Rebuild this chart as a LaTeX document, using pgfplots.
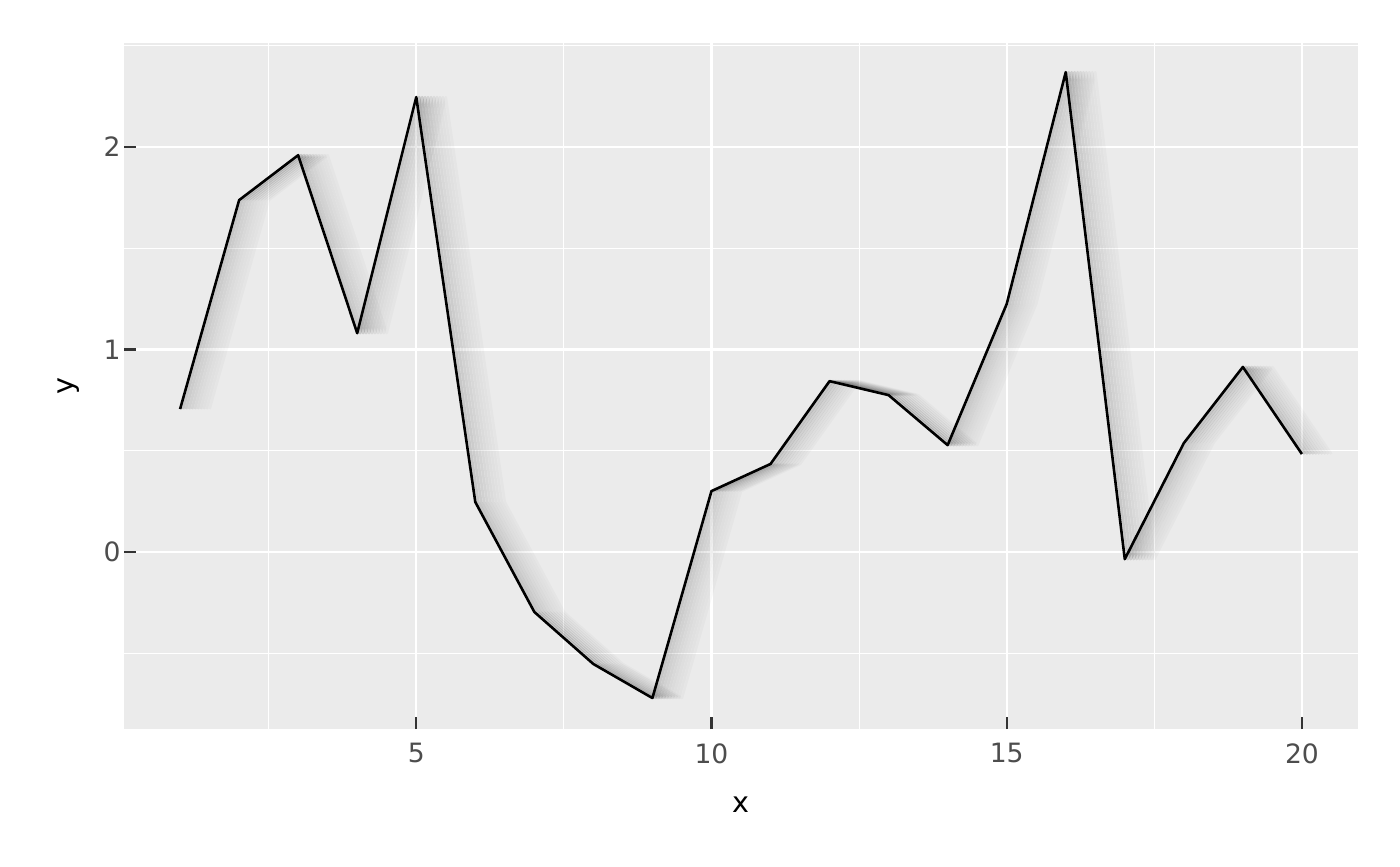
\documentclass[border=0pt]{standalone}
\usepackage{fontspec}
\setmainfont{DejaVu Sans}
\usepackage{pgfplots}
\pgfplotsset{compat=1.18}
\usepackage{pgfplotstable}
\usetikzlibrary{calc,backgrounds}

\definecolor{panelbg}{HTML}{EBEBEB}
\definecolor{tickgray}{HTML}{333333}
\definecolor{labelgray}{HTML}{4D4D4D}

\pgfplotstableread{
x y
1 0.706
2 1.738
3 1.960
4 1.081
5 2.247
6 0.247
7 -0.296
8 -0.553
9 -0.721
10 0.301
11 0.435
12 0.844
13 0.775
14 0.528
15 1.225
16 2.370
17 -0.035
18 0.538
19 0.914
20 0.484
}\linedata

% one faded copy of the line, shifted right by #1
\newcommand{\shadowcopy}[2]{%
  \addplot[black, line width=1.3pt, line join=round, draw opacity=#2, forget plot]
    table[x expr=\thisrow{x}+#1, y=y] {\linedata};}

\begin{document}
\begin{tikzpicture}
\begin{axis}[
  scale only axis,
  width=617pt, height=343pt,
  xmin=0.05, xmax=20.95,
  ymin=-0.874, ymax=2.514,
  xtick={5,10,15,20}, ytick={0,1,2},
  minor xtick={2.5,7.5,12.5,17.5},
  minor ytick={-0.5,0.5,1.5,2.5},
  grid=both,
  major grid style={white, line width=1.1pt},
  minor grid style={white, line width=0.55pt},
  axis background/.style={fill=panelbg},
  axis line style={draw=none},
  tick align=inside,
  major tick length=6pt, minor tick length=0pt,
  major tick style={tickgray, line width=1.1pt},
  xtick pos=bottom, ytick pos=left,
  /pgf/number format/assume math mode=true,
  tick label style={font=\fontsize{13.3}{16}\selectfont, text=labelgray, inner sep=0pt},
  xticklabel style={anchor=north, yshift=-7pt},
  yticklabel style={anchor=east, xshift=-1.5pt},
  label style={font=\fontsize{14.3}{17}\selectfont, inner sep=0pt},
  xlabel={x}, ylabel={y},
  xlabel style={at={(axis description cs:0.5,0)}, anchor=center, yshift=-37.75pt},
  ylabel style={at={(axis description cs:0,0.5)}, anchor=center, yshift=27.5pt},
]
\coordinate (pSW) at (rel axis cs:0,0);
\coordinate (pNE) at (rel axis cs:1,1);
\shadowcopy{0.50}{0.025}
\shadowcopy{0.45}{0.035}
\shadowcopy{0.40}{0.045}
\shadowcopy{0.35}{0.055}
\shadowcopy{0.30}{0.065}
\shadowcopy{0.25}{0.080}
\shadowcopy{0.20}{0.095}
\shadowcopy{0.15}{0.110}
\shadowcopy{0.10}{0.130}
\shadowcopy{0.05}{0.150}
\addplot[black, line width=1.3pt, line join=round] table[x=x, y=y] {\linedata};
\end{axis}
\begin{scope}[on background layer]
\fill[white] ($(pSW)+(-62pt,-68.5pt)$) rectangle ($(pNE)+(21pt,21.5pt)$);
\end{scope}
\end{tikzpicture}
\end{document}
